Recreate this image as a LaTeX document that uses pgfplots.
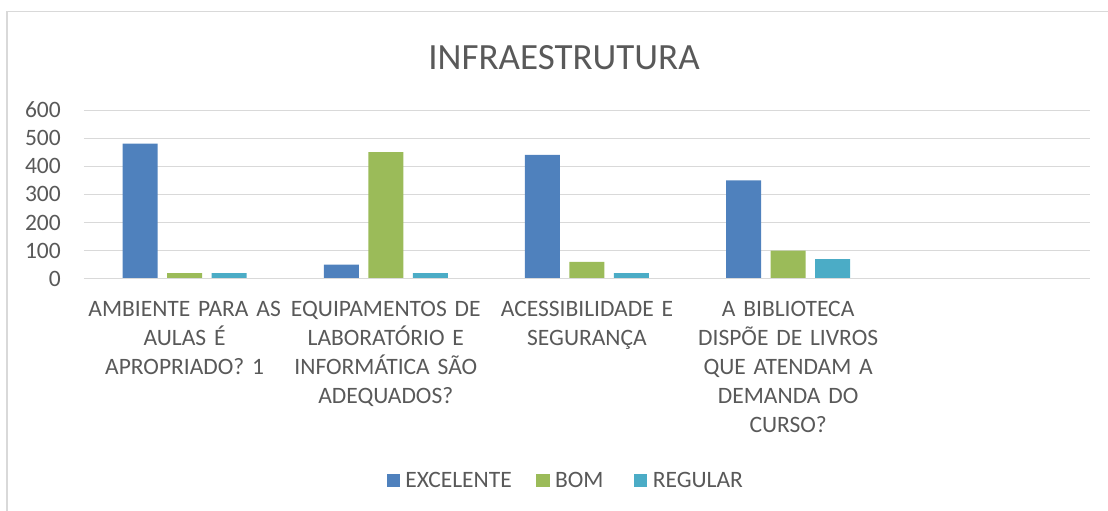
\documentclass[border=0pt]{standalone}
\usepackage{fontspec}
\setmainfont{Carlito}
\usepackage{pgfplots}
\pgfplotsset{compat=1.18}
\definecolor{cExc}{HTML}{4F81BD}
\definecolor{cBom}{HTML}{9BBB59}
\definecolor{cReg}{HTML}{4BACC6}
\definecolor{gridc}{HTML}{D9D9D9}
\definecolor{txt}{HTML}{595959}
\pgfplotsset{sqlegend/.style={legend image code/.code={\fill[##1] (0pt,-6.65pt) rectangle (13.3pt,6.65pt);}}}
\newcommand{\lblfont}{\fontsize{23.5}{29}\selectfont\frenchspacing}
\begin{document}
\begin{tikzpicture}[x=1pt,y=1pt]
\begin{axis}[
  scale only axis, width=1006pt, height=168.7pt,
  ybar=9.5pt, bar width=35pt,
  xmin=-0.5, xmax=4.5, ymin=0, ymax=600,
  ytick={0,100,...,600},
  xtick={0,1,2,3,4},
  xticklabels={{AMBIENTE PARA AS\\AULAS É\\APROPRIADO? 1},{EQUIPAMENTOS DE\\LABORATÓRIO E\\INFORMÁTICA SÃO\\ADEQUADOS?},{ACESSIBILIDADE E\\SEGURANÇA},{A BIBLIOTECA\\DISPÕE DE LIVROS\\QUE ATENDAM A\\DEMANDA DO\\CURSO?},{}},
  /pgf/number format/assume math mode=true,
  axis line style={draw=none},
  major tick length=0pt,
  ymajorgrids, grid style={gridc, line width=1pt},
  yticklabel style={font=\lblfont, text=txt, inner sep=0pt, anchor=east, xshift=-23pt},
  xticklabel style={font=\lblfont, text=txt, inner sep=0pt, anchor=base, text width=200pt, align=center, yshift=-37.8pt},
  legend style={at={(0.4806,-1.196)}, anchor=center, draw=none, fill=none, inner sep=0pt,
    legend columns=-1, font=\lblfont, text=txt,
    nodes={inner xsep=5.5pt, inner ysep=0pt},
    /tikz/every even column/.append style={column sep=19pt}},
]
\addplot[sqlegend, fill=cExc, draw=none] coordinates {(0,480) (1,50) (2,440) (3,350)};
\addplot[sqlegend, fill=cBom, draw=none] coordinates {(0,20) (1,450) (2,60) (3,100)};
\addplot[sqlegend, fill=cReg, draw=none] coordinates {(0,20) (1,20) (2,20) (3,70)};
\legend{EXCELENTE,BOM\rule{6pt}{0pt},REGULAR}
\draw[gridc, line width=1pt] (axis cs:-0.5,0) -- (axis cs:4.5,0);
\end{axis}
\draw[gridc, line width=1.3pt] (-77,-240) -- (-77,267.2) -- (1030,267.2);
\node[anchor=base, text=txt, font=\fontsize{37}{44}\selectfont, inner sep=0pt] at (480,209.4) {INFRAESTRUTURA};
\pgfresetboundingbox
\path[use as bounding box] (-84,-232.3) rectangle (1024,278.7);
\end{tikzpicture}
\end{document}
